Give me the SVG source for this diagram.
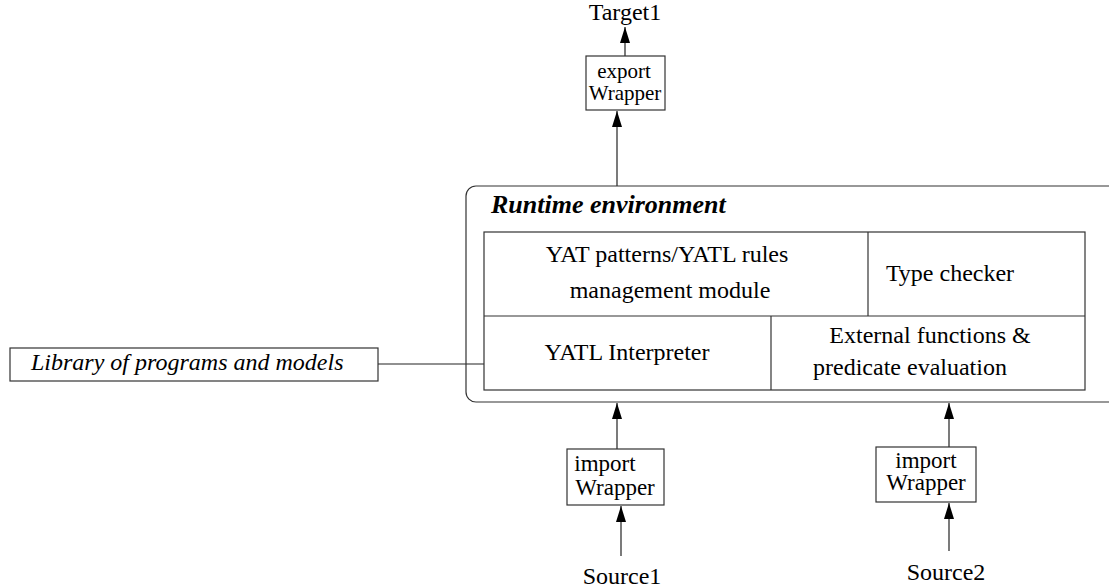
<svg xmlns="http://www.w3.org/2000/svg" width="1109" height="588" viewBox="0 0 1109 588">
<defs>
<style>
text{font-family:"Liberation Serif","Times New Roman",serif;font-size:24px;fill:#000}
.box{fill:none;stroke:#333;stroke-width:1.2}
.ln{fill:none;stroke:#222;stroke-width:1.2}
.it{font-style:italic}
.bi{font-style:italic;font-weight:bold;font-size:26px}
.c{text-anchor:middle}
.s21{font-size:21px}
.s23{font-size:23px}
</style>
<marker id="up" viewBox="0 0 10 16" refX="5" refY="0" markerWidth="10" markerHeight="16" markerUnits="userSpaceOnUse" orient="0">
<path d="M5,0 L10,16 L0,16 z" fill="#000"/>
</marker>
</defs>
<g id="connectors">
<line class="ln" x1="625" y1="56" x2="625" y2="27" marker-end="url(#up)"/>
<line class="ln" x1="617" y1="186" x2="617" y2="111" marker-end="url(#up)"/>
<line class="ln" x1="378" y1="364" x2="484" y2="364"/>
<line class="ln" x1="617" y1="449" x2="617" y2="403" marker-end="url(#up)"/>
<line class="ln" x1="621" y1="556" x2="621" y2="506" marker-end="url(#up)"/>
<line class="ln" x1="949" y1="447" x2="949" y2="403" marker-end="url(#up)"/>
<line class="ln" x1="949" y1="551" x2="949" y2="503" marker-end="url(#up)"/>
</g>
<g id="target1">
<text class="c" x="625" y="20">Target1</text>
</g>
<g id="export-wrapper">
<rect class="box" x="586" y="56" width="79" height="54"/>
<text class="c s21" x="624" y="78">export</text>
<text class="c s21" x="625" y="100">Wrapper</text>
</g>
<g id="runtime">
<rect class="box" x="466" y="186" width="660" height="216" rx="10"/>
<text class="bi" x="491" y="213">Runtime environment</text>
<rect class="box" x="484" y="232" width="601" height="158"/>
<line class="box" x1="484" y1="316" x2="1085" y2="316"/>
<line class="box" x1="868" y1="232" x2="868" y2="316"/>
<line class="box" x1="771" y1="316" x2="771" y2="390"/>
</g>
<g id="yat-patterns">
<text class="c" x="667" y="262">YAT patterns/YATL rules</text>
<text class="c" x="670" y="298">management module</text>
</g>
<g id="type-checker">
<text class="c" x="950" y="281">Type checker</text>
</g>
<g id="yatl-interpreter">
<text class="c" x="627" y="360">YATL Interpreter</text>
</g>
<g id="external-functions">
<text class="c" x="930" y="343">External functions &amp;</text>
<text class="c" x="910" y="375">predicate evaluation</text>
</g>
<g id="library">
<rect class="box" x="10" y="348" width="368" height="33"/>
<text class="it" x="31" y="370">Library of programs and models</text>
</g>
<g id="import-wrapper-1">
<rect class="box" x="567" y="449" width="97" height="56"/>
<text class="c s23" x="605" y="471">import</text>
<text class="c s23" x="615" y="495">Wrapper</text>
</g>
<g id="import-wrapper-2">
<rect class="box" x="876" y="447" width="100" height="55"/>
<text class="c s23" x="926" y="468">import</text>
<text class="c s23" x="926" y="490">Wrapper</text>
</g>
<g id="source1">
<text class="c" x="622" y="584">Source1</text>
</g>
<g id="source2">
<text class="c" x="946" y="580">Source2</text>
</g>
</svg>
